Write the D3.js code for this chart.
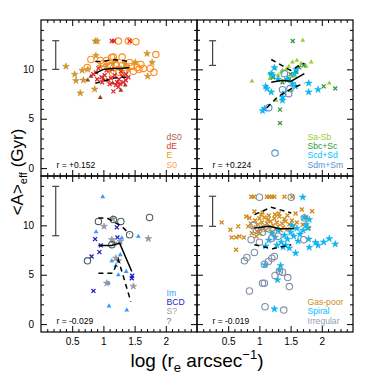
<!DOCTYPE html>
<html>
<head>
<meta charset="utf-8">
<script src="https://cdn.jsdelivr.net/npm/d3@7"></script>
<style>
  body { margin: 0; background: #fff; }
  svg text { font-family: "Liberation Sans", Arial, sans-serif; }
</style>
</head>
<body>
<script>
// ---- data ----
// top left: early types
const tlE = [[0.87,12.87],[0.90,12.87],[0.40,10.3],[0.54,9.5],[0.56,8.85],[0.68,8.9],[0.66,9.9],[0.75,10.0],[0.63,7.6],
  [0.86,8.0],[0.88,11.4],[1.70,11.6],[1.78,10.7],[1.71,9.3],[1.51,10.7],[1.05,10.4],[1.15,10.6],[1.25,10.2],[1.30,9.8],
  [1.10,9.9],[0.95,10.3],[1.35,10.5],[1.20,10.9],[1.40,10.0]];
const tlS0 = [[1.24,12.87],[1.52,12.8],[1.40,12.87],[1.16,11.25],[1.30,11.25],[1.13,11.2],[0.80,11.0],[0.74,10.2],[1.84,11.5],
  [1.75,10.1],[1.81,9.7],[1.64,10.1],[1.57,10.0],[1.54,10.2],[1.60,10.5],[1.0,10.6],[1.1,10.3],[1.2,10.5],[1.3,10.4],
  [1.45,10.3],[1.35,9.9],[0.95,10.9],[1.25,9.7],[1.15,9.6],[1.05,10.9],[1.42,10.7],[1.48,9.8]];
const tlDE = [[1.135,12.87],[1.17,12.87],[1.42,12.87],[1.16,7.77],[1.27,8.55],[1.36,8.9],[0.84,9.5],[0.88,9.7],[0.97,9.2],
  [1.02,9.4],[1.08,8.9],[1.12,9.1],[1.18,9.4],[1.22,8.7],[1.25,9.0],[1.30,9.3],[1.05,9.9],[0.92,10.1],[1.14,10.0],
  [1.32,8.7],[1.20,8.4],[1.10,8.5],[0.98,8.7],[1.28,9.8],[0.90,9.0],[1.24,8.2],[1.36,9.5],[1.40,9.2]];
const tlDS0 = [[0.75,8.9],[0.95,7.15],[1.28,7.87],[0.80,9.3],[1.00,9.0],[1.15,8.6],[1.35,8.4]];
const tlMed = [[0.87,9.6],[1.0,10.0],[1.15,10.1],[1.28,10.1],[1.42,10.2]];
const tlUp = [[0.87,10.8],[1.0,10.8],[1.15,11.0],[1.28,10.9],[1.42,10.8]];
const tlLo = [[0.87,8.6],[1.0,8.8],[1.15,9.1],[1.28,9.2],[1.42,9.2]];

// top right: spirals
const trSaSb = [[1.695,12.94],[0.88,8.8],[1.83,10.74],[2.12,8.6],[1.27,6.86],[1.53,10.74],[1.47,10.3],[1.67,10.6],[1.75,10.3],
  [1.37,9.9],[1.43,10.0],[1.35,9.73],[1.16,9.56],[1.17,9.06],[1.51,7.87],[1.25,10.1],[1.60,10.9],[1.30,9.4],[1.55,9.3]];
const trSbc = [[1.535,12.87],[2.03,8.28],[2.215,8.07],[1.33,5.92],[1.33,4.56],[1.48,9.06],[1.44,8.9],[1.64,10.2],[1.71,10.4],
  [1.59,9.73],[1.37,8.7],[1.40,7.6],[1.50,9.5],[1.22,9.2]];
const trScd = [[1.24,10.17],[1.19,9.56],[1.21,9.4],[1.10,8.28],[1.12,8.05],[1.19,7.7],[1.08,6.02],[1.53,8.55],[1.79,8.6],
  [1.79,7.7],[1.94,7.96],[1.59,10.0],[1.56,9.56],[1.37,6.86],[1.58,8.28],[1.37,7.2],[1.45,9.0],[1.05,5.8],[1.30,9.0]];
const trSdm = [[1.40,9.56],[1.37,7.94],[1.49,8.05],[1.47,7.54],[1.15,6.12],[1.25,1.52]];
const trMed = [[1.19,8.7],[1.37,8.9],[1.51,8.8],[1.72,9.56]];
const trUp = [[1.19,11.0],[1.50,9.9],[1.72,10.64]];
const trLo = [[1.12,6.12],[1.29,7.2],[1.51,8.05],[1.72,8.6]];

// bottom left: irregulars and unknowns
const blIm = [[0.99,12.89],[0.883,9.33],[1.56,8.88],[1.295,8.72],[1.135,6.41],[1.27,7.02],[1.24,4.98],[1.365,5.32],
  [1.08,4.14],[1.09,1.83],[1.375,1.42],[1.26,8.2],[1.20,5.93]];
const blBCD = [[1.215,9.8],[0.867,8.61],[0.958,7.97],[0.936,7.29],[0.81,6.85],[0.84,3.36],[1.225,8.78],[1.455,4.65],[1.46,4.9]];
const blS = [[1.15,10.65],[1.01,9.9],[1.135,8.55],[1.17,8.2],[1.27,8.37],[1.72,8.65],[1.20,6.68],[1.24,6.41],[1.055,4.14],[1.48,3.83]];
const blQ = [[0.92,10.4],[1.28,10.4],[1.42,9.05],[1.74,10.8],[0.745,6.41],[1.135,8.04],[1.16,10.6]];
const blMed = [[0.92,7.97],[1.135,7.97],[1.26,8.2],[1.455,5.32]];
const blUp = [[0.92,10.75],[1.055,10.75],[1.295,9.9],[1.42,9.12]];
const blLo = [[0.92,5.16],[1.15,5.16],[1.24,6.51],[1.44,2.27]];

// bottom right: all galaxies
const brGas = [[0.87,12.9],[0.91,12.9],[1.12,12.9],[1.16,12.9],[1.20,12.9],[1.24,12.9],[1.40,12.9],[1.525,12.9],
  [0.395,10.3],[0.535,9.56],[0.66,9.9],[0.555,8.78],[0.626,8.78],[0.75,8.78],[0.626,7.53],[0.79,10.9],[0.84,10.75],
  [1.68,11.6],[1.75,10.8],[1.695,10.07],[1.845,11.43],[1.79,9.73],[0.92,11.4],[1.03,11.1],[1.31,11.2],[1.40,10.65],[0.68,8.88],
  [0.86,10.2],[0.9,9.8],[0.93,10.5],[0.96,9.4],[0.98,10.1],[1.0,10.7],[1.02,9.6],[1.04,10.3],[1.06,9.9],[1.08,10.8],
  [1.1,9.5],[1.12,10.2],[1.14,10.6],[1.16,9.8],[1.18,10.4],[1.2,9.3],[1.22,10.0],[1.24,10.7],[1.26,9.6],[1.28,10.3],
  [1.3,9.9],[1.32,10.9],[1.34,9.5],[1.36,10.2],[1.38,9.8],[1.42,10.4],[1.45,9.6],[1.48,10.1],[1.52,10.5],[1.55,9.9],
  [0.88,9.2],[0.95,8.9],[1.05,11.3],[1.15,11.0],[1.25,11.1],[1.45,11.0],[1.6,10.3],[1.58,11.2],[0.82,9.9],[1.01,9.2]];
const brSpiral = [[1.695,12.85],[1.72,10.8],[1.80,10.58],[1.75,10.07],[1.775,9.73],[1.79,8.61],[1.80,7.77],[1.94,7.97],
  [2.03,8.31],[2.12,8.65],[2.215,8.1],[1.34,5.93],[1.32,5.49],[1.29,4.48],[1.24,1.53],[1.09,6.0],[1.58,7.19],[1.48,7.70],
  [1.90,8.27],[1.15,8.5],[1.2,9.2],[1.25,8.8],[1.3,9.5],[1.35,8.3],[1.4,9.0],[1.45,8.6],[1.5,9.3],[1.55,8.9],[1.6,9.7],
  [1.65,9.1],[1.62,8.4],[1.38,7.8],[1.28,8.0],[1.7,9.5],[1.52,10.0],[1.1,7.9],[1.42,8.0]];
const brIrr = [[1.0,12.85],[1.51,12.85],[0.867,8.55],[0.92,7.26],[0.76,6.41],[0.80,6.75],[1.08,6.07],[1.145,6.34],[1.20,6.68],
  [1.24,6.85],[1.25,4.92],[1.32,5.32],[1.37,5.26],[1.455,4.71],[1.05,4.14],[1.08,4.14],[1.48,3.8],[0.84,3.36],[1.09,1.76],
  [1.39,1.42],[1.72,10.75],[1.71,8.55],[0.95,9.5],[1.05,9.3],[1.12,9.7],[1.2,8.7],[1.3,8.9],[0.9,10.0],[1.0,8.3]];
const brMed = [[0.92,9.73],[1.16,9.9],[1.32,9.66],[1.56,9.66]];
const brUp = [[0.92,11.09],[1.19,11.83],[1.51,11.26]];
const brLo = [[0.92,8.04],[1.21,7.63],[1.51,8.04]];

const xMajor = [0.5, 1, 1.5, 2];
const xLabels = ["0.5", "1", "1.5", "2"];
const yMajor = [0, 5, 10];
const yLabels = ["0", "5", "10"];

// ---- layout ----
const W = 374, H = 374;
const pw = 156, ph = 156;
const svg = d3.select("body").append("svg").attr("width", W).attr("height", H);

const x = d3.scaleLinear().domain([0, 2.5]).range([0, pw]);
const y = d3.scaleLinear().domain([-0.8, 15]).range([ph, 0]);

const xMinor = d3.range(1, 25).map(d => d / 10).filter(d => !xMajor.includes(d));
const yMinor = d3.range(0, 15).filter(d => !yMajor.includes(d));

const panels = [
  { x0: 41, y0: 20, left: true, bottom: false, r: "r = +0.152", err: [0.236, 10.0, 12.9],
    series: [
      { d: tlE, m: "star", c: "#d99a1e" },
      { d: tlS0, m: "circle", c: "#ff8c1a" },
      { d: tlDE, m: "x", c: "#e0262a" },
      { d: tlDS0, m: "tri", c: "#9e3a1a" }],
    lines: [tlMed, tlUp, tlLo],
    legend: [["dS0", "#b0604a"], ["dE", "#e03434"], ["E", "#e8a020"], ["S0", "#ffa040"]] },
  { x0: 197, y0: 20, left: false, bottom: false, r: "r = +0.224", err: [0.25, 10.4, 12.9],
    series: [
      { d: trSaSb, m: "tri", c: "#9acd32" },
      { d: trSbc, m: "x", c: "#2e9a3a" },
      { d: trScd, m: "star", c: "#00bfff" },
      { d: trSdm, m: "circle", c: "#5a8fd0" }],
    lines: [trMed, trUp, trLo],
    legend: [["Sa-Sb", "#9acd32"], ["Sbc+Sc", "#2e9a3a"], ["Scd+Sd", "#00bfff"], ["Sdm+Sm", "#5a8fd0"]] },
  { x0: 41, y0: 176, left: true, bottom: true, r: "r = -0.029", err: [0.236, 8.95, 13.95],
    series: [
      { d: blIm, m: "tri", c: "#3399ff" },
      { d: blBCD, m: "x", c: "#2222cc" },
      { d: blS, m: "star", c: "#9a9aaa" },
      { d: blQ, m: "circle", c: "#4f5f5f" }],
    lines: [blMed, blUp, blLo],
    legend: [["Im", "#3399ff"], ["BCD", "#2222cc"], ["S?", "#9a9aaa"], ["?", "#5f6f6f"]] },
  { x0: 197, y0: 176, left: false, bottom: true, r: "r = -0.019", err: [0.25, 9.9, 12.95],
    series: [
      { d: brGas, m: "x", c: "#d08a18" },
      { d: brSpiral, m: "star", c: "#00bfff" },
      { d: brIrr, m: "circle", c: "#8090a8" }],
    lines: [brMed, brUp, brLo],
    legend: [["Gas-poor", "#d08a18"], ["Spiral", "#00bfff"], ["Irregular", "#8f9fb5"]] }
];

const starPath = d3.symbol(d3.symbolStar, 15)();
const triPath = d3.symbol(d3.symbolTriangle, 10)();
const xPath = d3.symbol(d3.symbolTimes, 12)();
const line = d3.line().x(d => x(d[0])).y(d => y(d[1]));

panels.forEach(p => {
  const g = svg.append("g").attr("transform", `translate(${p.x0},${p.y0})`);

  // points
  p.series.forEach(s => {
    const pts = g.append("g").selectAll("g").data(s.d).join("g")
      .attr("transform", d => `translate(${x(d[0])},${y(d[1])})`);
    if (s.m === "circle") {
      pts.append("circle").attr("r", 3.2).attr("fill", "none").attr("stroke", s.c).attr("stroke-width", 1.1);
    } else if (s.m === "star") {
      pts.append("path").attr("d", starPath).attr("fill", s.c).attr("stroke", d3.color(s.c).darker(0.6)).attr("stroke-width", 0.4);
    } else if (s.m === "tri") {
      pts.append("path").attr("d", triPath).attr("fill", s.c);
    } else {
      pts.append("path").attr("d", xPath).attr("fill", "none").attr("stroke", s.c).attr("stroke-width", 1.3);
    }
  });

  // running median and percentiles
  g.append("path").attr("d", line(p.lines[0])).attr("fill", "none").attr("stroke", "#000").attr("stroke-width", 1.5);
  p.lines.slice(1).forEach(l => {
    g.append("path").attr("d", line(l)).attr("fill", "none").attr("stroke", "#000")
      .attr("stroke-width", 1.5).attr("stroke-dasharray", "5,4");
  });

  // typical error bar
  const [ex, ey0, ey1] = p.err;
  const eb = g.append("g").attr("stroke", "#444").attr("stroke-width", 1.2);
  eb.append("line").attr("x1", x(ex)).attr("x2", x(ex)).attr("y1", y(ey0)).attr("y2", y(ey1));
  [ey0, ey1].forEach(v => eb.append("line").attr("x1", x(ex) - 3.5).attr("x2", x(ex) + 3.5).attr("y1", y(v)).attr("y2", y(v)));

  // axes, ticks pointing inward on all sides
  const addAxis = (axis, tx, ty, vals, len, labels) => {
    const a = g.append("g").attr("transform", `translate(${tx},${ty})`)
      .call(axis.tickValues(vals).tickSize(-len).tickPadding(labels ? 7 : 0)
        .tickFormat(labels ? ((d, i) => labels[i]) : () => ""));
    a.select(".domain").remove();
    a.selectAll("line").attr("stroke", "#000").attr("stroke-width", 1);
    a.selectAll("text").attr("fill", "#000").style("font-size", "10px");
    return a;
  };
  addAxis(d3.axisLeft(y), 0, 0, yMajor, 6, p.left ? yLabels : null);
  addAxis(d3.axisLeft(y), 0, 0, yMinor, 3, null);
  addAxis(d3.axisRight(y), pw, 0, yMajor, 6, null);
  addAxis(d3.axisRight(y), pw, 0, yMinor, 3, null);
  const xb = addAxis(d3.axisBottom(x), 0, ph, xMajor, 6, p.bottom ? xLabels : null);
  xb.selectAll("text").attr("y", 6);
  addAxis(d3.axisBottom(x), 0, ph, xMinor, 3, null);
  addAxis(d3.axisTop(x), 0, 0, xMajor, 6, null);
  addAxis(d3.axisTop(x), 0, 0, xMinor, 3, null);

  g.append("rect").attr("width", pw).attr("height", ph).attr("fill", "none").attr("stroke", "#000").attr("stroke-width", 1.2);

  // correlation coefficient
  g.append("text").attr("x", 15.5).attr("y", ph - 8.5).style("font-size", "8.5px").attr("fill", "#000").text(p.r);

  // legend
  const n = p.legend.length;
  p.legend.forEach((l, i) => {
    g.append("text").attr("x", p.left ? 125.5 : 110.5).attr("y", ph - 8.5 - (n - 1 - i) * 9.3)
      .style("font-size", "8.6px").attr("fill", l[1]).text(l[0]);
  });
});

// axis titles
const yt = svg.append("text").attr("transform", "translate(23,172) rotate(-90)")
  .attr("text-anchor", "middle").style("font-size", "17px").attr("fill", "#000");
yt.append("tspan").text("<A>");
yt.append("tspan").attr("dy", 4).style("font-size", "11px").text("eff");
yt.append("tspan").attr("dy", -4).text(" (Gyr)");

const xt = svg.append("text").attr("x", 197).attr("y", 367)
  .attr("text-anchor", "middle").style("font-size", "19px").attr("fill", "#000");
xt.append("tspan").text("log (r");
xt.append("tspan").attr("dy", 5).style("font-size", "13px").text("e");
xt.append("tspan").attr("dy", -5).text(" arcsec");
xt.append("tspan").attr("dy", -8).style("font-size", "13px").text("\u22121");
xt.append("tspan").attr("dy", 8).text(")");
</script>
</body>
</html>
